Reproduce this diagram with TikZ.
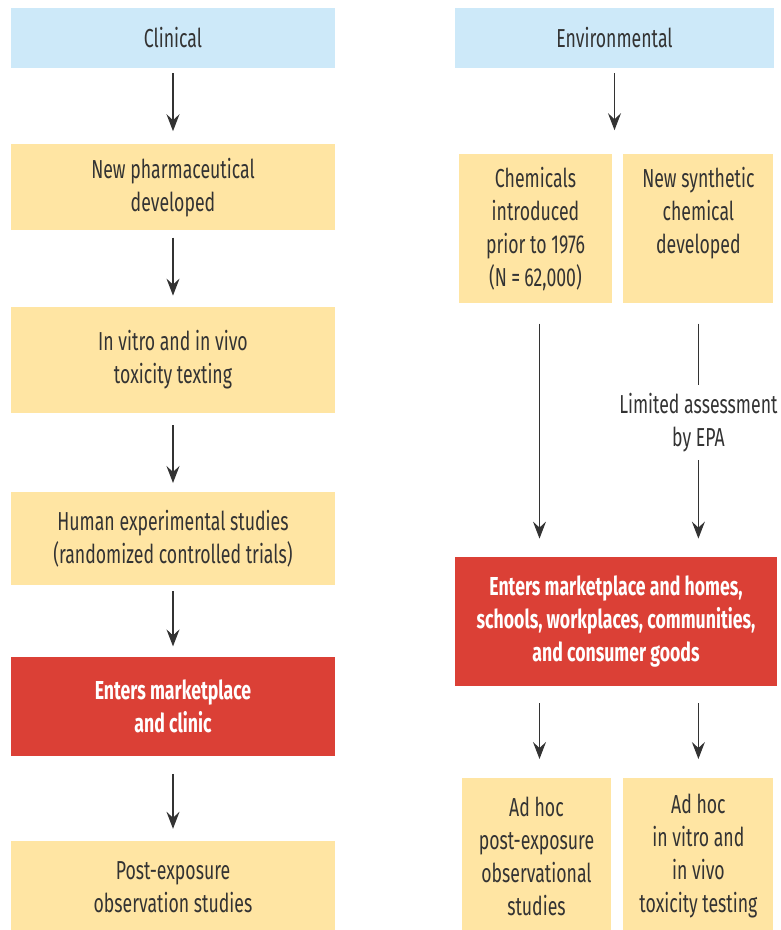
\documentclass[tikz,border=0pt]{standalone}
\usepackage{fontspec}
\setmainfont{Fira Sans}[FakeStretch=0.68]
\usetikzlibrary{arrows.meta, positioning}

\definecolor{headblue}{HTML}{CDE9F9}
\definecolor{stepyellow}{HTML}{FFE5A3}
\definecolor{marketred}{HTML}{DB4036}
\definecolor{inkgray}{HTML}{333333}

\begin{document}
\begin{tikzpicture}[
    >={Stealth[length=17pt, width=13pt, inset=6pt]},
    node distance=76pt,
    every node/.style={
        rectangle,
        align=center,
        inner sep=0pt,
        text=inkgray,
        font=\fontsize{26}{33}\selectfont
    },
    head/.style={fill=headblue, minimum height=60pt},
    stage/.style={fill=stepyellow},
    market/.style={fill=marketred, text=white,
        font=\fontsize{26}{33}\selectfont\bfseries},
    flow/.style={->, line width=1.2pt, draw=inkgray,
        shorten <=6pt, shorten >=11pt}
]
\useasboundingbox (0,0) rectangle (780pt,-930pt);

% Clinical column
\node (clin)  [head, minimum width=324pt] at (173pt,-38pt) {Clinical};
\node (pharma)[stage, below=76pt of clin, minimum width=324pt, minimum height=86pt]
    {New pharmaceutical\\developed};
\node (vitro) [stage, below=76pt of pharma, minimum width=324pt, minimum height=106pt]
    {In vitro and in vivo\\toxicity texting};
\node (human) [stage, below=79pt of vitro, minimum width=324pt, minimum height=93pt]
    {Human experimental studies\\(randomized controlled trials)};
\node (clinic)[market, below=71pt of human, minimum width=324pt, minimum height=99pt]
    {Enters marketplace\\and clinic};
\node (post)  [stage, below=85pt of clinic, minimum width=324pt, minimum height=92pt]
    {Post-exposure\\observation studies};

% Environmental column
\node (env)   [head, minimum width=319pt] at (614.5pt,-38pt) {Environmental};
\node (chem)  [stage, below right=86pt and 4pt of env.south west,
    minimum width=153pt, minimum height=149pt]
    {Chemicals\\introduced\\prior to 1976\\(N\,=\,62,000)};
\node (synth) [stage, right=11pt of chem, minimum width=150pt, minimum height=149pt]
    {New synthetic\\chemical\\developed\\\phantom{(N)}};
\node (epa)   [below=119pt of synth.south, anchor=center, inner ysep=8pt]
    {Limited assessment\\by EPA};
\node (homes) [market, below right=253pt and -4pt of chem.south west,
    minimum width=322pt, minimum height=129pt]
    {Enters marketplace and homes,\\schools, workplaces, communities,\\and consumer goods};
\node (adpost)[stage, below right=92pt and 7pt of homes.south west,
    minimum width=149pt, minimum height=156pt]
    {Ad hoc\\post-exposure\\observational\\studies};
\node (adtox) [stage, right=12pt of adpost, minimum width=150pt, minimum height=156pt]
    {Ad hoc\\in vitro and\\in vivo\\toxicity testing};

% Edges
\draw[flow, shorten <=5pt, shorten >=13pt] (clin) -- (pharma);
\draw[flow, shorten <=7pt] (pharma) -- (vitro);
\draw[flow, shorten <=12pt, shorten >=9pt] (vitro) -- (human);
\draw[flow, shorten >=10pt] (human) -- (clinic);
\draw[flow, shorten <=18pt, shorten >=12pt] (clinic) -- (post);

\draw[flow, shorten <=5pt, shorten >=24pt] (env) -- (env.south |- chem.north);
\draw[flow, shorten <=20pt, shorten >=18pt]
    ([xshift=4pt]chem.south) -- ([xshift=4pt]chem.south |- homes.north);
\draw[line width=1.2pt, draw=inkgray, shorten <=20pt] (synth) -- (epa);
\draw[flow, shorten <=0pt, shorten >=18pt] (epa) -- (synth.south |- homes.north);
\draw[flow, shorten <=17pt, shorten >=19pt]
    ([xshift=3pt]adpost.north |- homes.south) -- ([xshift=3pt]adpost.north);
\draw[flow, shorten <=17pt, shorten >=19pt] (adtox.north |- homes.south) -- (adtox);

\end{tikzpicture}
\end{document}
